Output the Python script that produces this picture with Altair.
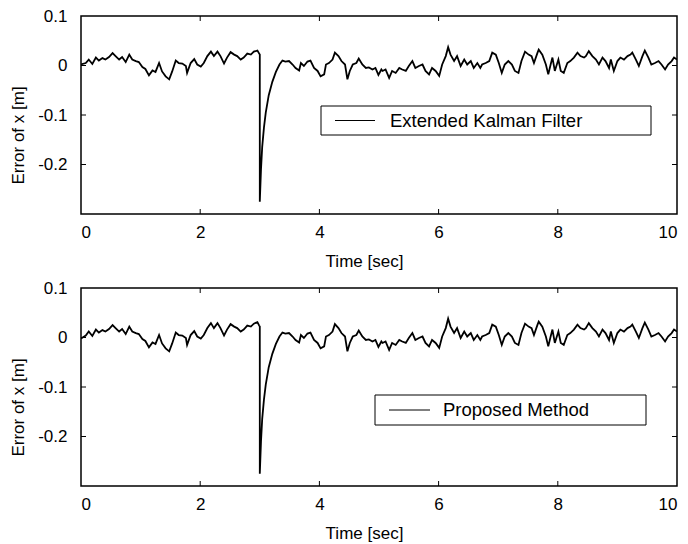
import altair as alt
import pandas as pd

# ---- data ----
time_s = [0.00, 0.08, 0.13, 0.19, 0.25, 0.30, 0.36, 0.41, 0.47, 0.53, 0.58, 0.64, 0.69, 0.75, 0.81,
          0.86, 0.92, 0.97, 1.03, 1.08, 1.14, 1.20, 1.25, 1.31, 1.36, 1.42, 1.48, 1.53, 1.59, 1.64,
          1.70, 1.76, 1.78, 1.84, 1.90, 1.95, 2.01, 2.06, 2.12, 2.18, 2.23, 2.29, 2.34, 2.40, 2.45,
          2.51, 2.57, 2.62, 2.68, 2.73, 2.79, 2.85, 2.90, 2.96, 2.99, 3.00, 3.00,
          3.02, 3.04, 3.07, 3.10, 3.15, 3.21, 3.27, 3.33, 3.38, 3.43,
          3.49, 3.55, 3.60, 3.66, 3.69, 3.74, 3.80, 3.85, 3.91, 3.97, 4.02, 4.08, 4.11, 4.16, 4.22,
          4.26, 4.32, 4.37, 4.43, 4.47, 4.51, 4.56, 4.62, 4.66, 4.72, 4.78, 4.83, 4.89, 4.94, 4.99,
          5.04, 5.06, 5.11, 5.17, 5.22, 5.28, 5.34, 5.39, 5.45, 5.50, 5.56, 5.61, 5.67, 5.73, 5.78,
          5.84, 5.89, 5.95, 6.01, 6.06, 6.12, 6.16, 6.20, 6.26, 6.31, 6.37, 6.43, 6.48, 6.54, 6.59,
          6.65, 6.70, 6.73, 6.79, 6.85, 6.90, 6.96, 7.01, 7.06, 7.11, 7.17, 7.23, 7.28, 7.34, 7.39,
          7.45, 7.51, 7.56, 7.60, 7.66, 7.68, 7.74, 7.80, 7.84, 7.88, 7.91, 7.95, 8.01, 8.05, 8.10,
          8.16, 8.21, 8.27, 8.33, 8.38, 8.44, 8.47, 8.52, 8.58, 8.64, 8.69, 8.75, 8.80, 8.86, 8.89,
          8.94, 9.00, 9.05, 9.11, 9.17, 9.22, 9.25, 9.31, 9.36, 9.42, 9.46, 9.52, 9.57, 9.63, 9.69,
          9.74, 9.80, 9.85, 9.91, 9.95, 10.00]

ekf_error = [0.002, 0.005, 0.012, 0.003, 0.016, 0.010, 0.015, 0.012, 0.017, 0.025, 0.019, 0.012, 0.017, 0.007, 0.022,
             0.012, 0.009, 0.007, -0.003, -0.007, -0.020, -0.010, -0.013, 0.005, -0.012, -0.022, -0.028, -0.012, 0.010, 0.005,
             0.004, -0.001, -0.015, 0.005, 0.013, 0.002, -0.002, 0.005, 0.019, 0.028, 0.019, 0.028, 0.019, 0.004, 0.016,
             0.027, 0.022, 0.019, 0.012, 0.016, 0.024, 0.022, 0.028, 0.030, 0.024, 0.022, -0.275,
             -0.210, -0.165, -0.125, -0.095, -0.060, -0.033, -0.013, 0.002, 0.010, 0.008,
             0.009, 0.002, -0.005, -0.010, 0.005, -0.001, 0.008, 0.010, -0.005, -0.011, -0.022, -0.018, 0.002, 0.005, 0.012,
             0.026, 0.019, 0.009, 0.002, -0.028, -0.011, 0.002, 0.005, 0.014, 0.002, -0.005, -0.004, -0.008, -0.005, -0.019,
             -0.008, -0.011, -0.008, -0.025, -0.011, -0.015, -0.005, -0.008, -0.011, -0.001, 0.009, -0.005, -0.001, 0.002, -0.011,
             -0.018, -0.005, -0.011, -0.021, 0.002, 0.019, 0.037, 0.022, 0.009, 0.019, -0.001, 0.012, 0.002, 0.009, -0.005,
             0.005, -0.005, 0.002, 0.005, 0.009, 0.026, 0.022, 0.005, -0.015, 0.002, 0.009, 0.002, -0.011, -0.015, 0.009,
             0.028, 0.022, 0.019, 0.005, 0.026, 0.032, 0.022, 0.002, -0.018, 0.002, 0.016, -0.011, 0.012, -0.011, -0.015,
             0.005, 0.009, 0.016, 0.026, 0.019, 0.016, 0.019, 0.029, 0.019, 0.012, 0.002, 0.016, 0.009, -0.005, 0.012,
             -0.011, 0.009, 0.016, 0.012, 0.019, 0.022, 0.026, 0.012, -0.001, 0.019, 0.030, 0.016, 0.002, 0.005, 0.009,
             0.002, -0.008, 0.002, 0.009, 0.016, 0.012]

proposed_error = [-0.002, 0.004, 0.012, 0.003, 0.016, 0.010, 0.015, 0.012, 0.017, 0.025, 0.019, 0.012, 0.017, 0.007, 0.022,
                  0.012, 0.009, 0.007, -0.003, -0.007, -0.020, -0.010, -0.013, 0.005, -0.012, -0.022, -0.028, -0.012, 0.010, 0.005,
                  0.004, -0.001, -0.015, 0.005, 0.013, 0.002, -0.002, 0.005, 0.019, 0.029, 0.019, 0.029, 0.019, 0.004, 0.016,
                  0.027, 0.022, 0.019, 0.012, 0.016, 0.024, 0.022, 0.028, 0.031, 0.024, 0.022, -0.275,
                  -0.210, -0.165, -0.125, -0.095, -0.060, -0.033, -0.013, 0.002, 0.010, 0.008,
                  0.009, 0.002, -0.005, -0.010, 0.005, -0.001, 0.008, 0.010, -0.005, -0.011, -0.022, -0.018, 0.002, 0.005, 0.012,
                  0.027, 0.019, 0.009, 0.002, -0.028, -0.011, 0.002, 0.005, 0.014, 0.002, -0.005, -0.004, -0.008, -0.005, -0.019,
                  -0.008, -0.011, -0.008, -0.025, -0.011, -0.015, -0.005, -0.008, -0.011, -0.001, 0.009, -0.005, -0.001, 0.002, -0.011,
                  -0.018, -0.005, -0.011, -0.021, 0.002, 0.019, 0.038, 0.022, 0.009, 0.019, -0.001, 0.012, 0.002, 0.009, -0.005,
                  0.005, -0.005, 0.002, 0.005, 0.009, 0.026, 0.022, 0.005, -0.015, 0.002, 0.009, 0.002, -0.011, -0.015, 0.009,
                  0.028, 0.022, 0.019, 0.005, 0.026, 0.032, 0.022, 0.002, -0.018, 0.002, 0.016, -0.011, 0.012, -0.011, -0.015,
                  0.005, 0.009, 0.016, 0.026, 0.019, 0.016, 0.019, 0.029, 0.019, 0.012, 0.002, 0.016, 0.009, -0.005, 0.012,
                  -0.011, 0.009, 0.016, 0.012, 0.019, 0.022, 0.026, 0.012, -0.001, 0.019, 0.030, 0.016, 0.002, 0.005, 0.009,
                  0.002, -0.008, 0.002, 0.009, 0.016, 0.012]

series_names = ["Extended Kalman Filter", "Proposed Method"]
x_tick_values = [0, 2, 4, 6, 8, 10]
y_tick_values = [-0.2, -0.1, 0, 0.1]
x_inner_ticks = [2, 4, 6, 8]
y_inner_ticks = [-0.2, -0.1, 0]
x_title = "Time [sec]"
y_title = "Error of x [m]"

W, H = 596, 198
FONT = "Liberation Sans"
FS = 17
LFS = 18.5

x_scale = alt.Scale(domain=[0, 10], nice=False, zero=False)
y_scale = alt.Scale(domain=[-0.3, 0.1], nice=False, zero=False)

x_axis = alt.Axis(values=x_tick_values, title=x_title, grid=False, ticks=False, tickSize=0,
                  domain=False, labelPadding=10, labelFontSize=FS, titleFontSize=FS,
                  titleFontWeight="normal", labelFont=FONT, titleFont=FONT,
                  labelColor="black", titleColor="black",
                  titleX=283, titleY=39, titleBaseline="top", titleAlign="center")
y_axis = alt.Axis(values=y_tick_values, title=y_title, grid=False, ticks=False, tickSize=0,
                  domain=False, labelPadding=14, labelFontSize=FS, titleFontSize=FS,
                  titleFontWeight="normal", labelFont=FONT, titleFont=FONT,
                  labelColor="black", titleColor="black",
                  labelExpr="'' + datum.value",
                  titleAngle=-90, titleX=-54, titleY=119, titleBaseline="bottom",
                  titleAlign="center")


def panel(values, name, box):
    df = pd.DataFrame({"t": time_s, "v": values, "i": list(range(len(time_s)))})
    line = alt.Chart(df).mark_line(color="black", strokeWidth=1.8, clip=True).encode(
        x=alt.X("t:Q", scale=x_scale, axis=x_axis),
        y=alt.Y("v:Q", scale=y_scale, axis=y_axis),
        order="i:Q",
    )
    xt = pd.DataFrame({"t": x_inner_ticks})
    yt = pd.DataFrame({"v": y_inner_ticks})
    tick_style = dict(color="black", strokeWidth=1)
    top_ticks = alt.Chart(xt).mark_rule(**tick_style).encode(
        x=alt.X("t:Q", scale=x_scale, axis=x_axis), y=alt.value(0), y2=alt.value(5))
    bot_ticks = alt.Chart(xt).mark_rule(**tick_style).encode(
        x=alt.X("t:Q", scale=x_scale, axis=x_axis), y=alt.value(H - 5), y2=alt.value(H))
    left_ticks = alt.Chart(yt).mark_rule(**tick_style).encode(
        y=alt.Y("v:Q", scale=y_scale, axis=y_axis), x=alt.value(0), x2=alt.value(5))
    right_ticks = alt.Chart(yt).mark_rule(**tick_style).encode(
        y=alt.Y("v:Q", scale=y_scale, axis=y_axis), x=alt.value(W - 5), x2=alt.value(W))

    bx0, bx1, by0, by1, lx0, lx1, tx = box
    ym = (by0 + by1) / 2
    leg_df = pd.DataFrame({"name": [name]})
    leg_box = alt.Chart(leg_df).mark_rect(fill="white", stroke="black", strokeWidth=1).encode(
        x=alt.value(bx0), x2=alt.value(bx1), y=alt.value(by0), y2=alt.value(by1))
    leg_line = alt.Chart(leg_df).mark_rule(color="black", strokeWidth=1).encode(
        x=alt.value(lx0), x2=alt.value(lx1), y=alt.value(ym))
    leg_text = alt.Chart(leg_df).mark_text(align="left", baseline="middle", fontSize=LFS,
                                           font=FONT, color="black").encode(
        x=alt.value(tx), y=alt.value(ym), text="name:N")

    return alt.layer(line, top_ticks, bot_ticks, left_ticks, right_ticks,
                     leg_box, leg_line, leg_text).properties(width=W, height=H)


p1 = panel(ekf_error, series_names[0], (240, 570, 90, 119, 254, 294, 309))
p2 = panel(proposed_error, series_names[1], (294, 565, 107, 137, 308, 349, 362))

chart = alt.vconcat(p1, p2, spacing=8).properties(
    padding={"left": 8, "top": 6, "right": 5, "bottom": 0}
).configure(background="white", view=alt.ViewConfig(stroke="black", strokeWidth=1.5))

chart.save("out.html", embed_options={"renderer": "svg", "actions": False})
